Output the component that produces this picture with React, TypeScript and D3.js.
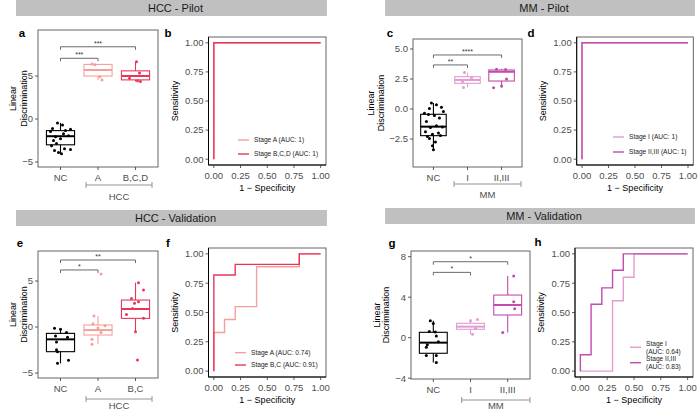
import React from "react";
import * as d3 from "d3";

// ---------------- DATA ----------------
// Panel a: HCC pilot
const hccPilotCats = ["NC", "A", "B,C,D"];
const hccPilotNC = [-0.45, -0.7, -1.1, -1.2, -1.35, -1.45, -1.7, -1.95, -2.05, -2.3, -2.5, -2.85, -3.1, -3.45, -3.55, -3.65, -3.9, -4.05];
const hccPilotNCJitter = [-3, 2, -8, 10, 5, -10, 3, 8, -5, 0, -7, -4, -9, 4, 10, -6, -2, 1];
const hccPilotNCBox = [-4.05, -3.0, -2.0, -1.35, -0.45];
const hccPilotA = [6.4, 6.3, 4.9, 4.55];
const hccPilotAJitter = [-6, -3, 2, 4];
const hccPilotABox = [4.55, 5.0, 5.7, 6.35, 6.4];
const hccPilotBCD = [6.65, 5.35, 4.75, 4.45, 4.35];
const hccPilotBCDJitter = [1, 4, -6, 2, 5];
const hccPilotBCDBox = [4.35, 4.55, 5.0, 5.6, 6.65];
const hccPilotSig = ["***", "***"];
const hccPilotSigY = [7.06, 8.4];

// Panel c: MM pilot
const mmPilotCats = ["NC", "I", "II,III"];
const mmPilotNC = [0.5, 0.35, 0.15, 0.05, -0.2, -0.35, -0.45, -0.55, -0.75, -1.05, -1.4, -1.5, -1.55, -1.9, -2.0, -2.1, -2.2, -2.3, -2.45, -2.75, -3.05, -3.4];
const mmPilotNCJitter = [-2, 3, 8, -4, 10, -9, -5, 1, 6, -7, 3, 9, -3, -8, 5, -1, 7, -6, -4, 2, -1, 0];
const mmPilotNCBox = [-3.4, -2.22, -1.47, -0.44, 0.5];
const mmPilotI = [3.03, 2.6, 2.3, 1.8];
const mmPilotIJitter = [-3, 4, -5, -4];
const mmPilotIBox = [1.8, 2.14, 2.42, 2.69, 3.03];
const mmPilotII = [3.32, 3.3, 2.5, 1.92, 1.78];
const mmPilotIIJitter = [-5, 4, 5, 0, -8];
const mmPilotIIBox = [1.78, 2.33, 3.1, 3.25, 3.35];
const mmPilotSig = ["**", "****"];
const mmPilotSigY = [3.67, 4.5];

// Panel e: HCC validation
const hccValCats = ["NC", "A", "B,C"];
const hccValNC = [-0.14, -0.25, -0.6, -0.97, -1.1, -1.63, -2.46, -2.68, -3.6, -3.95];
const hccValNCJitter = [-6, 0, 6, -5, 7, -4, -4, -3, 8, -3];
const hccValNCBox = [-3.95, -2.68, -1.34, -0.69, -0.14];
const hccValA = [5.76, 1.2, 0.36, 0.14, -0.1, -0.6, -1.34, -1.88];
const hccValAJitter = [3, -4, -5, 7, 0, 3, -6, -6];
const hccValABox = [-1.88, -0.87, -0.33, 0.22, 1.2];
const hccValBC = [4.82, 4.02, 3.1, 2.75, 2.57, 2.0, 1.35, 0.94, -0.51, -3.59];
const hccValBCJitter = [3, 8, -4, 3, -1, -3, -9, 8, 0, 2];
const hccValBCBox = [-0.51, 0.94, 1.96, 2.93, 4.82];
const hccValSig = ["*", "**"];
const hccValSigY = [6.2, 7.28];

// Panel g: MM validation
const mmValCats = ["NC", "I", "II,III"];
const mmValNC = [1.68, 1.4, 0.6, 0.55, 0.16, -0.4, -0.7, -0.95, -1.76, -1.76, -2.46];
const mmValNCJitter = [-3, 0, -4, 2, 3, 5, -6, -7, -7, 3, 3];
const mmValNCBox = [-2.46, -1.54, -0.49, 0.53, 1.68];
const mmValI = [1.8, 1.68, 0.9, 0.33];
const mmValIJitter = [7, 0, 5, 2];
const mmValIBox = [0.33, 0.83, 1.09, 1.42, 1.81];
const mmValII = [6.09, 3.56, 2.85, 0.5];
const mmValIIJitter = [6, 6, 7, -5];
const mmValIIBox = [0.5, 2.24, 3.23, 4.21, 6.09];
const mmValSig = ["*", "*"];
const mmValSigY = [6.45, 7.5];

// ROC curves (false positive rate, true positive rate)
const rocHccPilotA_fpr = [0, 0, 1];
const rocHccPilotA_tpr = [0, 1, 1];
const rocHccPilotBCD_fpr = [0, 0, 1];
const rocHccPilotBCD_tpr = [0, 1, 1];
const rocMmPilotI_fpr = [0, 0, 1];
const rocMmPilotI_tpr = [0, 1, 1];
const rocMmPilotII_fpr = [0, 0, 1];
const rocMmPilotII_tpr = [0, 1, 1];
const rocHccValA_fpr = [0, 0, 0.1, 0.1, 0.2, 0.2, 0.4, 0.4, 0.8, 0.8, 1];
const rocHccValA_tpr = [0, 0.33, 0.33, 0.44, 0.44, 0.55, 0.55, 0.89, 0.89, 1, 1];
const rocHccValBC_fpr = [0, 0, 0.2, 0.2, 0.8, 0.8, 1];
const rocHccValBC_tpr = [0, 0.82, 0.82, 0.91, 0.91, 1, 1];
const rocMmValI_fpr = [0, 0.3, 0.3, 0.4, 0.4, 0.5, 0.5, 1];
const rocMmValI_tpr = [0, 0, 0.6, 0.6, 0.8, 0.8, 1, 1];
const rocMmValII_fpr = [0, 0, 0.1, 0.1, 0.2, 0.2, 0.3, 0.3, 0.4, 0.4, 1];
const rocMmValII_tpr = [0, 0.14, 0.14, 0.57, 0.57, 0.71, 0.71, 0.86, 0.86, 1, 1];

const rocTicks = [0, 0.25, 0.5, 0.75, 1];

const headers = ["HCC - Pilot", "MM - Pilot", "HCC - Validation", "MM - Validation"];

// ---------------- STYLE ----------------
const FONT = "'Liberation Sans', Arial, Helvetica, sans-serif";
const C_NC = "#000000";
const C_HCC_A = "#F4A09A";
const C_HCC_B = "#E8365A";
const C_MM_I = "#E39BD0";
const C_MM_II = "#C24BAE";
const BORDER = "#555555";
const TICKTXT = "#4D4D4D";
const minus = (s: string) => s.replace("-", "\u2212");

type Group = { values: number[]; jitter: number[]; box: number[]; color: string };

function BoxPanel(props: any) {
  const { letter, letterXY, plot, domain, ticks, fmt, cats, groups, sigLabels, sigY,
    groupLabel, gBracket, gLabelY, yTitleX } = props;
  const x = d3.scalePoint<string>().domain(cats).range([plot.x0, plot.x1]).padding(0.6);
  const y = d3.scaleLinear().domain(domain).range([plot.y1, plot.y0]);
  const bw = x.step() * 0.75;
  const f = d3.format(fmt);
  const yc = (plot.y0 + plot.y1) / 2;
  return (
    <g fontFamily={FONT}>
      <text x={letterXY[0]} y={letterXY[1]} fontSize={11.5} fontWeight="bold" textAnchor="middle">{letter}</text>
      <rect x={plot.x0} y={plot.y0} width={plot.x1 - plot.x0} height={plot.y1 - plot.y0} fill="white" stroke={BORDER} strokeWidth={0.9} />
      {ticks.map((t: number) => (
        <g key={t}>
          <line x1={plot.x0 - 3} x2={plot.x0} y1={y(t)} y2={y(t)} stroke="#333" strokeWidth={0.8} />
          <text x={plot.x0 - 5} y={y(t)} dy="0.35em" textAnchor="end" fontSize={9.5} fill={TICKTXT}>{minus(f(t))}</text>
        </g>
      ))}
      {cats.map((c: string) => (
        <g key={c}>
          <line x1={x(c)} x2={x(c)} y1={plot.y1} y2={plot.y1 + 3} stroke="#333" strokeWidth={0.8} />
          <text x={x(c)} y={plot.y1 + 13.5} textAnchor="middle" fontSize={9.5} fill={TICKTXT}>{c}</text>
        </g>
      ))}
      {/* y title */}
      <g transform={`translate(${yTitleX[0]},${yc}) rotate(-90)`}>
        <text textAnchor="middle" dy="0.35em" fontSize={9}>Linear</text>
      </g>
      <g transform={`translate(${yTitleX[1]},${yc}) rotate(-90)`}>
        <text textAnchor="middle" dy="0.35em" fontSize={9}>Discrimination</text>
      </g>
      {/* boxes */}
      {groups.map((g: Group, i: number) => {
        const cx = x(cats[i]) as number;
        const [lo, q1, med, q3, hi] = g.box;
        return (
          <g key={i}>
            <line x1={cx} x2={cx} y1={y(hi)} y2={y(q3)} stroke={g.color} strokeWidth={1.1} />
            <line x1={cx} x2={cx} y1={y(q1)} y2={y(lo)} stroke={g.color} strokeWidth={1.1} />
            <rect x={cx - bw / 2} y={y(q3)} width={bw} height={y(q1) - y(q3)} fill="none" stroke={g.color} strokeWidth={1.1} />
            <line x1={cx - bw / 2} x2={cx + bw / 2} y1={y(med)} y2={y(med)} stroke={g.color} strokeWidth={2} />
            {g.values.map((v, k) => (
              <circle key={k} cx={cx + g.jitter[k]} cy={y(v)} r={1.5} fill={g.color} />
            ))}
          </g>
        );
      })}
      {/* significance brackets */}
      {sigLabels.map((lab: string, i: number) => {
        const xa = x(cats[0]) as number;
        const xb = x(cats[i + 1]) as number;
        const yy = y(sigY[i]);
        return (
          <g key={i}>
            <path d={`M${xa},${yy + 3}V${yy}H${xb}V${yy + 3}`} fill="none" stroke="#444" strokeWidth={0.8} />
            <text x={(xa + xb) / 2} y={yy - 1} textAnchor="middle" fontSize={7} fill="#333">{lab}</text>
          </g>
        );
      })}
      {/* group bracket under axis */}
      <path d={`M${gBracket.x0},${gBracket.y - 3}V${gBracket.y + 3}M${gBracket.x0},${gBracket.y}H${gBracket.x1}M${gBracket.x1},${gBracket.y - 3}V${gBracket.y + 3}`}
        fill="none" stroke="#888" strokeWidth={0.9} />
      <text x={(gBracket.x0 + gBracket.x1) / 2} y={gLabelY} textAnchor="middle" fontSize={9.5} fill={TICKTXT}>{groupLabel}</text>
    </g>
  );
}

function RocPanel(props: any) {
  const { letter, letterXY, plot, curves, legend } = props;
  const x = d3.scaleLinear().domain([-0.05, 1.05]).range([plot.x0, plot.x1]);
  const y = d3.scaleLinear().domain([-0.05, 1.05]).range([plot.y1, plot.y0]);
  const f = d3.format(".2f");
  const line = d3.line<[number, number]>().x((d) => x(d[0])).y((d) => y(d[1]));
  return (
    <g fontFamily={FONT}>
      <text x={letterXY[0]} y={letterXY[1]} fontSize={11.5} fontWeight="bold" textAnchor="middle">{letter}</text>
      <rect x={plot.x0} y={plot.y0} width={plot.x1 - plot.x0} height={plot.y1 - plot.y0} fill="white" stroke={BORDER} strokeWidth={0.9} />
      {curves.map((c: any, i: number) => (
        <path key={i} d={line(c.fpr.map((v: number, k: number) => [v, c.tpr[k]])) || ""} fill="none" stroke={c.color} strokeWidth={1.4} />
      ))}
      <line x1={plot.x0} x2={plot.x0} y1={plot.y0} y2={plot.y1} stroke="#000" strokeWidth={1} />
      <line x1={plot.x0} x2={plot.x1} y1={plot.y1} y2={plot.y1} stroke="#000" strokeWidth={1} />
      {rocTicks.map((t) => (
        <g key={t}>
          <line x1={plot.x0 - 3} x2={plot.x0} y1={y(t)} y2={y(t)} stroke="#333" strokeWidth={0.8} />
          <text x={plot.x0 - 5} y={y(t)} dy="0.35em" textAnchor="end" fontSize={9.5} fill={TICKTXT}>{f(t)}</text>
          <line x1={x(t)} x2={x(t)} y1={plot.y1} y2={plot.y1 + 3} stroke="#333" strokeWidth={0.8} />
          <text x={x(t)} y={plot.y1 + 13.5} textAnchor="middle" fontSize={9.5} fill={TICKTXT}>{f(t)}</text>
        </g>
      ))}
      <g transform={`translate(${plot.x0 - 34},${(plot.y0 + plot.y1) / 2}) rotate(-90)`}>
        <text textAnchor="middle" dy="0.35em" fontSize={9}>Sensitivity</text>
      </g>
      <text x={(plot.x0 + plot.x1) / 2} y={plot.y1 + 25.5} textAnchor="middle" fontSize={9}>1 − Specificity</text>
      {legend.items.map((it: any, i: number) => (
        <g key={i}>
          <line x1={legend.x} x2={legend.x + 11} y1={legend.ys[i]} y2={legend.ys[i]} stroke={curves[i].color} strokeWidth={1.4} />
          {it.map((ln: string, j: number) => (
            <text key={j} x={legend.x + 16} y={legend.ys[i] + (j - (it.length - 1) / 2) * 8} dy="0.35em" fontSize={6.6} fill="#1a1a1a">{ln}</text>
          ))}
        </g>
      ))}
    </g>
  );
}

function Header({ x0, x1, y, label }: any) {
  return (
    <g fontFamily={FONT}>
      <rect x={x0} y={y} width={x1 - x0} height={16} fill="#C0C0C0" />
      <text x={(x0 + x1) / 2 + 4} y={y + 12} textAnchor="middle" fontSize={11} fill="#1a1a1a">{label}</text>
    </g>
  );
}

export default function App() {
  return (
    <svg width={698} height={411} style={{ position: "absolute", left: 0, top: 0, background: "white" }}>
      <rect width={698} height={411} fill="white" />
      <Header x0={16} x1={327} y={0} label={headers[0]} />
      <Header x0={385} x1={695} y={0} label={headers[1]} />
      <Header x0={16} x1={327} y={210} label={headers[2]} />
      <Header x0={385} x1={695} y={208} label={headers[3]} />

      <BoxPanel letter="a" letterXY={[22, 37]} plot={{ x0: 38, x1: 158, y0: 30, y1: 167 }}
        domain={[-5.58, 10.35]} ticks={[-5, 0, 5]} fmt="d" cats={hccPilotCats}
        groups={[
          { values: hccPilotNC, jitter: hccPilotNCJitter, box: hccPilotNCBox, color: C_NC },
          { values: hccPilotA, jitter: hccPilotAJitter, box: hccPilotABox, color: C_HCC_A },
          { values: hccPilotBCD, jitter: hccPilotBCDJitter, box: hccPilotBCDBox, color: C_HCC_B },
        ]}
        sigLabels={hccPilotSig} sigY={hccPilotSigY} groupLabel="HCC"
        gBracket={{ x0: 86, x1: 152, y: 185 }} gLabelY={199.5} yTitleX={[13, 24]} />

      <RocPanel letter="b" letterXY={[168, 37]} plot={{ x0: 208.5, x1: 326, y0: 37, y1: 165 }}
        curves={[
          { fpr: rocHccPilotA_fpr, tpr: rocHccPilotA_tpr, color: C_HCC_A },
          { fpr: rocHccPilotBCD_fpr, tpr: rocHccPilotBCD_tpr, color: C_HCC_B },
        ]}
        legend={{ x: 238, ys: [140, 154], items: [["Stage A (AUC: 1)"], ["Stage B,C,D (AUC: 1)"]] }} />

      <BoxPanel letter="c" letterXY={[390, 37]} plot={{ x0: 413, x1: 522, y0: 39, y1: 167 }}
        domain={[-4.83, 5.83]} ticks={[-2.5, 0, 2.5, 5]} fmt=".1f" cats={mmPilotCats}
        groups={[
          { values: mmPilotNC, jitter: mmPilotNCJitter, box: mmPilotNCBox, color: C_NC },
          { values: mmPilotI, jitter: mmPilotIJitter, box: mmPilotIBox, color: C_MM_I },
          { values: mmPilotII, jitter: mmPilotIIJitter, box: mmPilotIIBox, color: C_MM_II },
        ]}
        sigLabels={mmPilotSig} sigY={mmPilotSigY} groupLabel="MM"
        gBracket={{ x0: 454, x1: 521, y: 184 }} gLabelY={197.5} yTitleX={[371, 381]} />

      <RocPanel letter="d" letterXY={[531, 37]} plot={{ x0: 576.7, x1: 693.3, y0: 37, y1: 165 }}
        curves={[
          { fpr: rocMmPilotI_fpr, tpr: rocMmPilotI_tpr, color: C_MM_I },
          { fpr: rocMmPilotII_fpr, tpr: rocMmPilotII_tpr, color: C_MM_II },
        ]}
        legend={{ x: 613, ys: [137, 152], items: [["Stage I (AUC: 1)"], ["Stage II,III (AUC: 1)"]] }} />

      <BoxPanel letter="e" letterXY={[20, 247]} plot={{ x0: 38, x1: 158, y0: 251, y1: 378 }}
        domain={[-5.54, 8.26]} ticks={[-5, 0, 5]} fmt="d" cats={hccValCats}
        groups={[
          { values: hccValNC, jitter: hccValNCJitter, box: hccValNCBox, color: C_NC },
          { values: hccValA, jitter: hccValAJitter, box: hccValABox, color: C_HCC_A },
          { values: hccValBC, jitter: hccValBCJitter, box: hccValBCBox, color: C_HCC_B },
        ]}
        sigLabels={hccValSig} sigY={hccValSigY} groupLabel="HCC"
        gBracket={{ x0: 86, x1: 152, y: 399 }} gLabelY={409} yTitleX={[13, 24]} />

      <RocPanel letter="f" letterXY={[168, 247]} plot={{ x0: 208.5, x1: 326, y0: 248, y1: 377 }}
        curves={[
          { fpr: rocHccValA_fpr, tpr: rocHccValA_tpr, color: C_HCC_A },
          { fpr: rocHccValBC_fpr, tpr: rocHccValBC_tpr, color: C_HCC_B },
        ]}
        legend={{ x: 235, ys: [352.7, 365], items: [["Stage A (AUC: 0.74)"], ["Stage B,C (AUC: 0.91)"]] }} />

      <BoxPanel letter="g" letterXY={[392, 247]} plot={{ x0: 411, x1: 530, y0: 251, y1: 379 }}
        domain={[-4.08, 8.56]} ticks={[-4, 0, 4, 8]} fmt="d" cats={mmValCats}
        groups={[
          { values: mmValNC, jitter: mmValNCJitter, box: mmValNCBox, color: C_NC },
          { values: mmValI, jitter: mmValIJitter, box: mmValIBox, color: C_MM_I },
          { values: mmValII, jitter: mmValIIJitter, box: mmValIIBox, color: C_MM_II },
        ]}
        sigLabels={mmValSig} sigY={mmValSigY} groupLabel="MM"
        gBracket={{ x0: 461.7, x1: 530, y: 400 }} gLabelY={409} yTitleX={[377, 386]} />

      <RocPanel letter="h" letterXY={[538, 246]} plot={{ x0: 575, x1: 693, y0: 248, y1: 377 }}
        curves={[
          { fpr: rocMmValI_fpr, tpr: rocMmValI_tpr, color: C_MM_I },
          { fpr: rocMmValII_fpr, tpr: rocMmValII_tpr, color: C_MM_II },
        ]}
        legend={{ x: 630, ys: [347.3, 362.7], items: [["Stage I", "(AUC: 0.64)"], ["Stage II,III", "(AUC: 0.83)"]] }} />
    </svg>
  );
}
